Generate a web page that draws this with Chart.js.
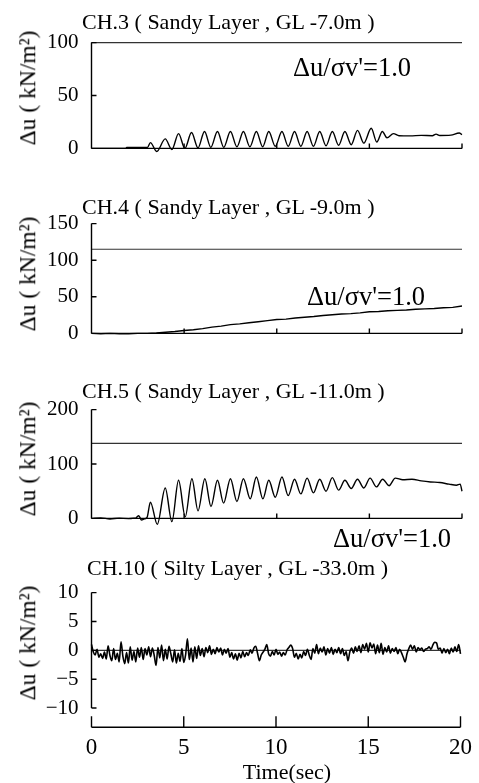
<!DOCTYPE html>
<html>
<head>
<meta charset="utf-8">
<script src="https://cdn.jsdelivr.net/npm/chart.js@4.4.0/dist/chart.umd.min.js"></script>
<style>
  body { margin: 0; background: #fff; width: 479px; height: 783px; position: relative; overflow: hidden;
         font-family: "Liberation Serif", "Times New Roman", serif; }
  canvas { position: absolute; left: 0; }
  .txt { position: absolute; white-space: nowrap; line-height: 1; color: #000; }
</style>
</head>
<body>
<script>
// time axis (sec)
const timeTicks = [0, 5, 10, 15, 20];

// CH.3 pore pressure (kN/m2), peaks and troughs
const t3 = [0, 1.85, 1.9, 3.02, 3.18, 3.52, 3.98, 4.34, 4.70, 5.04, 5.40, 5.75, 6.10, 6.44, 6.80, 7.14,
  7.50, 7.85, 8.20, 8.55, 8.90, 9.24, 9.57, 9.92, 10.28, 10.62, 10.96, 11.30, 11.64, 11.98, 12.32, 12.66,
  13.0, 13.34, 13.68, 14.02, 14.36, 14.70, 15.1, 15.4, 15.7, 15.95, 16.3, 16.6, 17.2, 17.8, 18.4, 18.6,
  18.8, 19.4, 19.85, 20];
const v3 = [0, 0, 0.8, 0.8, 5.5, -3, 9, -1, 14, 0, 15, 0.5, 16, 1, 16, 1,
  16, 1.5, 16, 1.5, 16, 1.5, 16, 2, 16, 2, 16, 2, 16, 2, 16, 2.5,
  16, 3, 16, 3.5, 17, 5, 19, 6, 16, 10, 14, 12, 11.8, 12.3, 12, 13.5,
  12.2, 12.5, 14.5, 13];

// CH.4, sampled every 0.5 s
const step4 = 0.5;
const v4 = [0, -0.5, 0, -0.5, -0.5, 0, 0, 0.5, 1.5, 2.5, 4, 5, 6.5, 8.5, 10, 12, 13, 14.5, 16, 17.5,
  19, 19.5, 21, 22, 23, 24.5, 25.5, 26.5, 27, 28, 29.5, 30, 31, 31.5, 32, 33, 33.5, 34, 35, 35.5, 37.5];

// CH.5
const t5 = [0, 0.5, 1.0, 1.5, 2.0, 2.4, 2.55, 2.7, 2.85, 3.0, 3.18, 3.55, 3.98, 4.34, 4.70, 5.06,
  5.42, 5.75, 6.12, 6.45, 6.80, 7.13, 7.50, 7.85, 8.20, 8.57, 8.90, 9.25, 9.57, 9.92, 10.28, 10.62,
  10.96, 11.30, 11.64, 11.98, 12.32, 12.66, 13.0, 13.34, 13.68, 14.02, 14.36, 14.70, 15.04, 15.38,
  15.72, 16.06, 16.4, 16.8, 17.3, 17.8, 18.3, 18.8, 19.3, 19.7, 19.9, 20];
const v5 = [0, 1, -1, 0.5, -0.5, 1, 5, -3, -1, 2, 30, -11, 56, -6, 70, 3,
  73, 14, 73, 22, 70, 28, 73, 31, 73, 36, 76, 36, 70, 39, 76, 42,
  72, 45, 74, 47, 72, 50, 75, 52, 70, 55, 72, 56, 74, 58,
  72, 60, 74, 71, 72, 69, 67, 66, 63, 61, 63, 50];

// CH.10, sampled every 0.1 s
const step10 = 0.1;
const v10 = [
  1.0, -0.3, -0.8, 0.2, -1.2, -0.6, -1.4, -0.3, -1.5, 0.8,
  -0.9, -1.8, 0.3, -1.6, -0.5, -2.0, 1.5, -1.0, -2.3, -0.4,
  -2.2, 0.6, -1.7, -0.2, -2.0, 0.4, -1.2, 0.5, -1.6, 0.3,
  -0.8, 0.6, -1.1, 0.4, -0.9, -2.6, 0.5, -1.3, 0.9, -1.8,
  0.2, -1.5, 0.7, -0.6, -2.0, 0.1, -2.2, -0.5, -1.9, 0.3,
  -2.1, -0.8, 2.0, -1.6, 0.4, -2.0, 0.6, -1.4, 0.8, -0.9,
  0.3, -1.1, 0.5, -0.4, 0.8, -0.7, 0.2, -0.6, 0.5, -0.3,
  0.4, -0.8, 0.2, -0.5, 0.3, -1.2, -0.4, -1.5, -0.6, -1.7,
  -0.5, -1.3, -0.2, -1.1, -0.4, -0.9, 0.1, -0.5, 0.4, 0.7,
  -0.5, -1.8, -0.8, -0.3, 0.2, 1.0, -0.6, -1.0, -0.2, -0.8,
  0.2, -0.7, -0.3, -1.0, -0.4, -0.8, 0.1, 0.5, 0.9, 0.3,
  -1.2, -0.5, -1.5, -0.7, -1.3, -0.2, -0.9, 0.2, -0.8, -1.6,
  0.3, -0.5, 1.0, -0.6, 0.4, -0.3, 0.6, -0.8, 0.3, -0.5,
  0.5, -0.7, 0.2, -0.4, 0.5, -0.6, 0.3, -0.9, -0.2, -1.8,
  -0.3, 0.4, -0.5, 0.6, -0.2, 0.8, -0.4, 1.0, 0.2, 1.2,
  -0.3, 1.3, 0.4, 1.1, -0.6, 0.9, -0.4, 1.2, -0.7, 0.5,
  -0.3, 0.8, -0.5, 0.3, -0.2, 0.5, -0.6, 0.2, -0.4, -1.2,
  -2.0, -0.6, 0.3, 0.9, 0.2, 0.8, -0.3, 0.5, 0.1, 0.4,
  -0.2, 0.2, 0.3, 0.6, 0.2, 0.9, 1.4, 1.3, 0.2, 0.4,
  -0.5, 0.3, -0.4, 0.2, -0.6, 0.4, -0.3, 0.6, -0.2, 1.0,
  -0.6];

// effective overburden lines (du/sv' = 1.0) and zero line
const ref3 = [100, 100];
const ref4 = [115, 115];
const ref5 = [138, 138];
const zero10 = [0, 0];

const yTicks3 = [0, 50, 100];
const yTicks4 = [0, 50, 100, 150];
const yTicks5 = [0, 100, 200];
const yTicks10 = [-10, -5, 0, 5, 10];

const serif = '"Liberation Serif", "Times New Roman", serif';
Chart.defaults.color = '#000';
Chart.defaults.font.family = serif;

const framePlugin = {
  id: 'frame',
  afterDatasetsDraw(chart, args, o) {
    const { ctx, chartArea: a, scales: { x, y } } = chart;
    ctx.save();
    ctx.strokeStyle = '#000';
    ctx.lineWidth = 1.4;
    ctx.beginPath();
    ctx.moveTo(a.left, y.getPixelForValue(o.yFrom));
    ctx.lineTo(a.left, y.getPixelForValue(o.yTo));
    o.yTicks.forEach(v => {
      const p = y.getPixelForValue(v);
      ctx.moveTo(a.left, p);
      ctx.lineTo(a.left + 5, p);
    });
    const ax = y.getPixelForValue(o.xAxisAt);
    ctx.moveTo(a.left, ax);
    ctx.lineTo(a.right, ax);
    o.xTicks.forEach(v => {
      const p = x.getPixelForValue(v);
      ctx.moveTo(p, ax);
      ctx.lineTo(p, ax - o.xTickLen);
    });
    ctx.stroke();
    ctx.restore();
  }
};

function pts(ts, vs) { return vs.map((v, i) => ({ x: ts[i], y: v })); }
function stepPts(step, vs) { return vs.map((v, i) => ({ x: i * step, y: v })); }

const panels = [
  { top: 37.7, bottom: 154, yMin: 0, yMax: 100, yTicks: yTicks3, data: pts(t3, v3), ref: ref3, smooth: true,
    title: 'CH.3 ( Sandy Layer , GL -7.0m )', titleX: 82, titleBase: 29, yTitleY: 88, note: [293, 76] },
  { top: 218.3, bottom: 338.3, yMin: 0, yMax: 150, yTicks: yTicks4, data: stepPts(step4, v4), ref: ref4, smooth: false,
    title: 'CH.4 ( Sandy Layer , GL -9.0m )', titleX: 82, titleBase: 214.3, yTitleY: 274, note: [307, 305] },
  { top: 404, bottom: 523.3, yMin: 0, yMax: 200, yTicks: yTicks5, data: pts(t5, v5), ref: ref5, smooth: true,
    title: 'CH.5 ( Sandy Layer , GL -11.0m )', titleX: 82, titleBase: 398.3, yTitleY: 459, note: [333, 546.7] },
  { top: 587.3, bottom: 727.3, yMin: -13.33, yMax: 10, yTicks: yTicks10, data: stepPts(step10, v10), ref: zero10, smooth: true,
    title: 'CH.10 ( Silty Layer , GL -33.0m )', titleX: 87, titleBase: 575, yTitleY: 643, last: true }
];

function addText(txt, left, base, fs) {
  const d = document.createElement('div');
  d.className = 'txt';
  d.textContent = txt;
  d.style.fontSize = fs + 'px';
  d.style.left = left + 'px';
  d.style.top = (base - 0.8375 * fs) + 'px';
  document.body.appendChild(d);
  return d;
}

panels.forEach(p => {
  const cTop = Math.floor(p.top) - 20;
  const cH = p.last ? 783 - cTop : Math.ceil(p.bottom) + 20 - cTop;
  const xH = p.last ? cTop + cH - p.bottom : 0;
  const canvas = document.createElement('canvas');
  canvas.width = 479;
  canvas.height = cH;
  canvas.style.top = cTop + 'px';
  document.body.appendChild(canvas);

  new Chart(canvas, {
    type: 'line',
    data: {
      datasets: [
        { data: p.data, borderColor: '#000', borderWidth: p.last ? 1.6 : 1.4, pointRadius: 0, clip: false,
          cubicInterpolationMode: p.smooth ? 'monotone' : 'default' },
        { data: [{ x: 0, y: p.ref[0] }, { x: 20, y: p.ref[1] }], borderColor: '#333', borderWidth: 1.1,
          pointRadius: 0, clip: false }
      ]
    },
    options: {
      responsive: false,
      animation: false,
      devicePixelRatio: 1,
      layout: { padding: { left: 0, right: 479 - 462, top: p.top - cTop, bottom: p.last ? 0 : cTop + cH - p.bottom } },
      plugins: {
        legend: { display: false },
        tooltip: { enabled: false },
        frame: {
          yFrom: p.last ? -10 : p.yMin, yTo: p.yMax, yTicks: p.yTicks,
          xAxisAt: p.yMin, xTicks: p.last ? timeTicks : timeTicks.slice(1), xTickLen: p.last ? 11 : 5
        }
      },
      scales: {
        x: {
          type: 'linear', min: 0, max: 20,
          grid: { display: false, drawTicks: false },
          border: { display: false },
          ticks: { display: !!p.last, font: { size: 23 }, padding: 7, maxRotation: 0, autoSkip: false },
          afterBuildTicks: s => { s.ticks = timeTicks.map(v => ({ value: v })); },
          afterFit: s => { s.height = xH; }
        },
        y: {
          min: p.yMin, max: p.yMax,
          grid: { display: false, drawTicks: false },
          border: { display: false },
          ticks: { font: { size: 21 }, padding: 13, callback: v => String(v).replace('-', '\u2212') },
          afterBuildTicks: s => { s.ticks = p.yTicks.map(v => ({ value: v })); },
          afterFit: s => { s.width = 91.5; }
        }
      }
    },
    plugins: [framePlugin]
  });

  addText(p.title, p.titleX, p.titleBase, 22);
  if (p.note) addText("\u0394u/\u03c3v'=1.0", p.note[0], p.note[1], 26.5);

  const yt = document.createElement('div');
  yt.className = 'txt';
  yt.textContent = '\u0394u ( kN/m\u00b2)';
  yt.style.fontSize = '23.5px';
  yt.style.left = (36 - 0.3375 * 23.5) + 'px';
  yt.style.top = p.yTitleY + 'px';
  yt.style.transform = 'translate(-50%,-50%) rotate(-90deg)';
  document.body.appendChild(yt);
});

const xt = addText('Time(sec)', 287, 779, 22);
xt.style.transform = 'translateX(-50%)';
</script>
</body>
</html>
